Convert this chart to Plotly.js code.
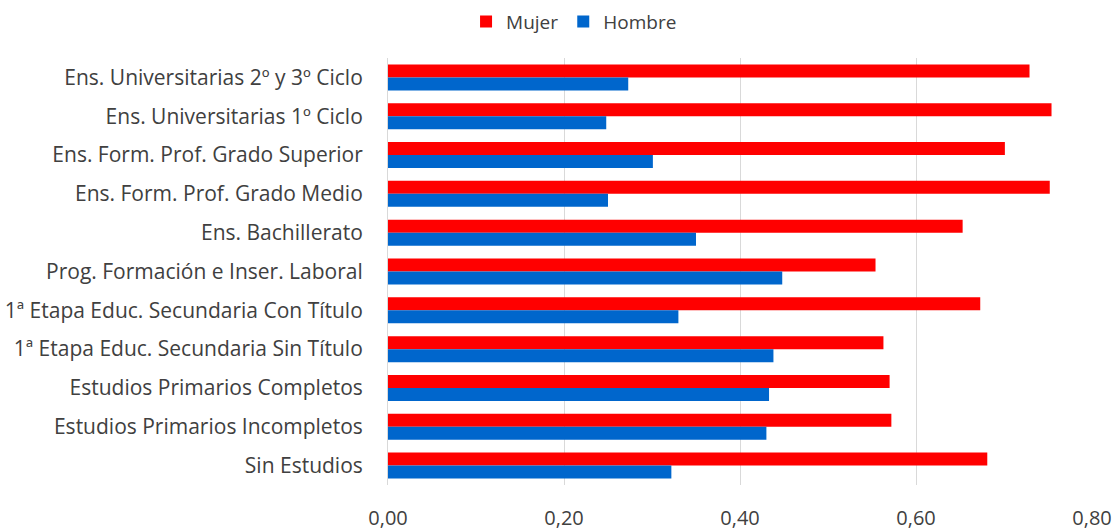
<!DOCTYPE html>
<html><head><meta charset="utf-8">
<script src="https://cdn.plot.ly/plotly-3.0.1.min.js"></script>
<style>html,body{margin:0;padding:0;background:#fff}#c{width:1119px;height:532px}</style>
</head><body><div id="c"></div>
<script>
const categories = [
  "Ens. Universitarias 2º y 3º Ciclo",
  "Ens. Universitarias 1º Ciclo",
  "Ens. Form. Prof. Grado Superior",
  "Ens. Form. Prof. Grado Medio",
  "Ens. Bachillerato",
  "Prog. Formación e Inser. Laboral",
  "1ª Etapa Educ. Secundaria Con Título",
  "1ª Etapa Educ. Secundaria Sin Título",
  "Estudios Primarios Completos",
  "Estudios Primarios Incompletos",
  "Sin Estudios"
];
const mujer  = [0.729, 0.754, 0.701, 0.752, 0.653, 0.554, 0.673, 0.563, 0.570, 0.572, 0.681];
const hombre = [0.273, 0.248, 0.301, 0.250, 0.350, 0.448, 0.330, 0.438, 0.433, 0.430, 0.322];
const xTicks = [0, 0.2, 0.4, 0.6, 0.8];

const traces = [
  {type:'bar', orientation:'h', name:'Mujer', y:categories, x:mujer, marker:{color:'#ff0000'}},
  {type:'bar', orientation:'h', name:'Hombre', y:categories, x:hombre, marker:{color:'#0066cc'}}
];
const layout = {
  width:1119, height:532,
  margin:{l:388, r:27, t:58, b:47},
  barmode:'group', bargap:0.33, bargroupgap:0,
  separators:',.',
  font:{family:'"Open Sans", sans-serif', color:'#404040'},
  showlegend:true,
  legend:{orientation:'h', xref:'container', x:0.513, xanchor:'center', y:0.995, yanchor:'top', yref:'container', font:{size:19, color:'#404040'}, itemwidth:30},
  xaxis:{range:[0,0.8], tickvals:xTicks, tickformat:'.2f', showgrid:true, gridcolor:'#d9d9d9', gridwidth:1, zeroline:false, showline:false, tickfont:{size:20, color:'#404040'}, ticklabelstandoff:19, fixedrange:true},
  yaxis:{autorange:'reversed', showline:true, linecolor:'#d9d9d9', ticks:'', ticklen:0, tickfont:{size:21, color:'#404040'}, ticklabelstandoff:20, automargin:false},
  plot_bgcolor:'#fff', paper_bgcolor:'#fff'
};
Plotly.newPlot('c', traces, layout, {displayModeBar:false, staticPlot:true});
</script></body></html>
